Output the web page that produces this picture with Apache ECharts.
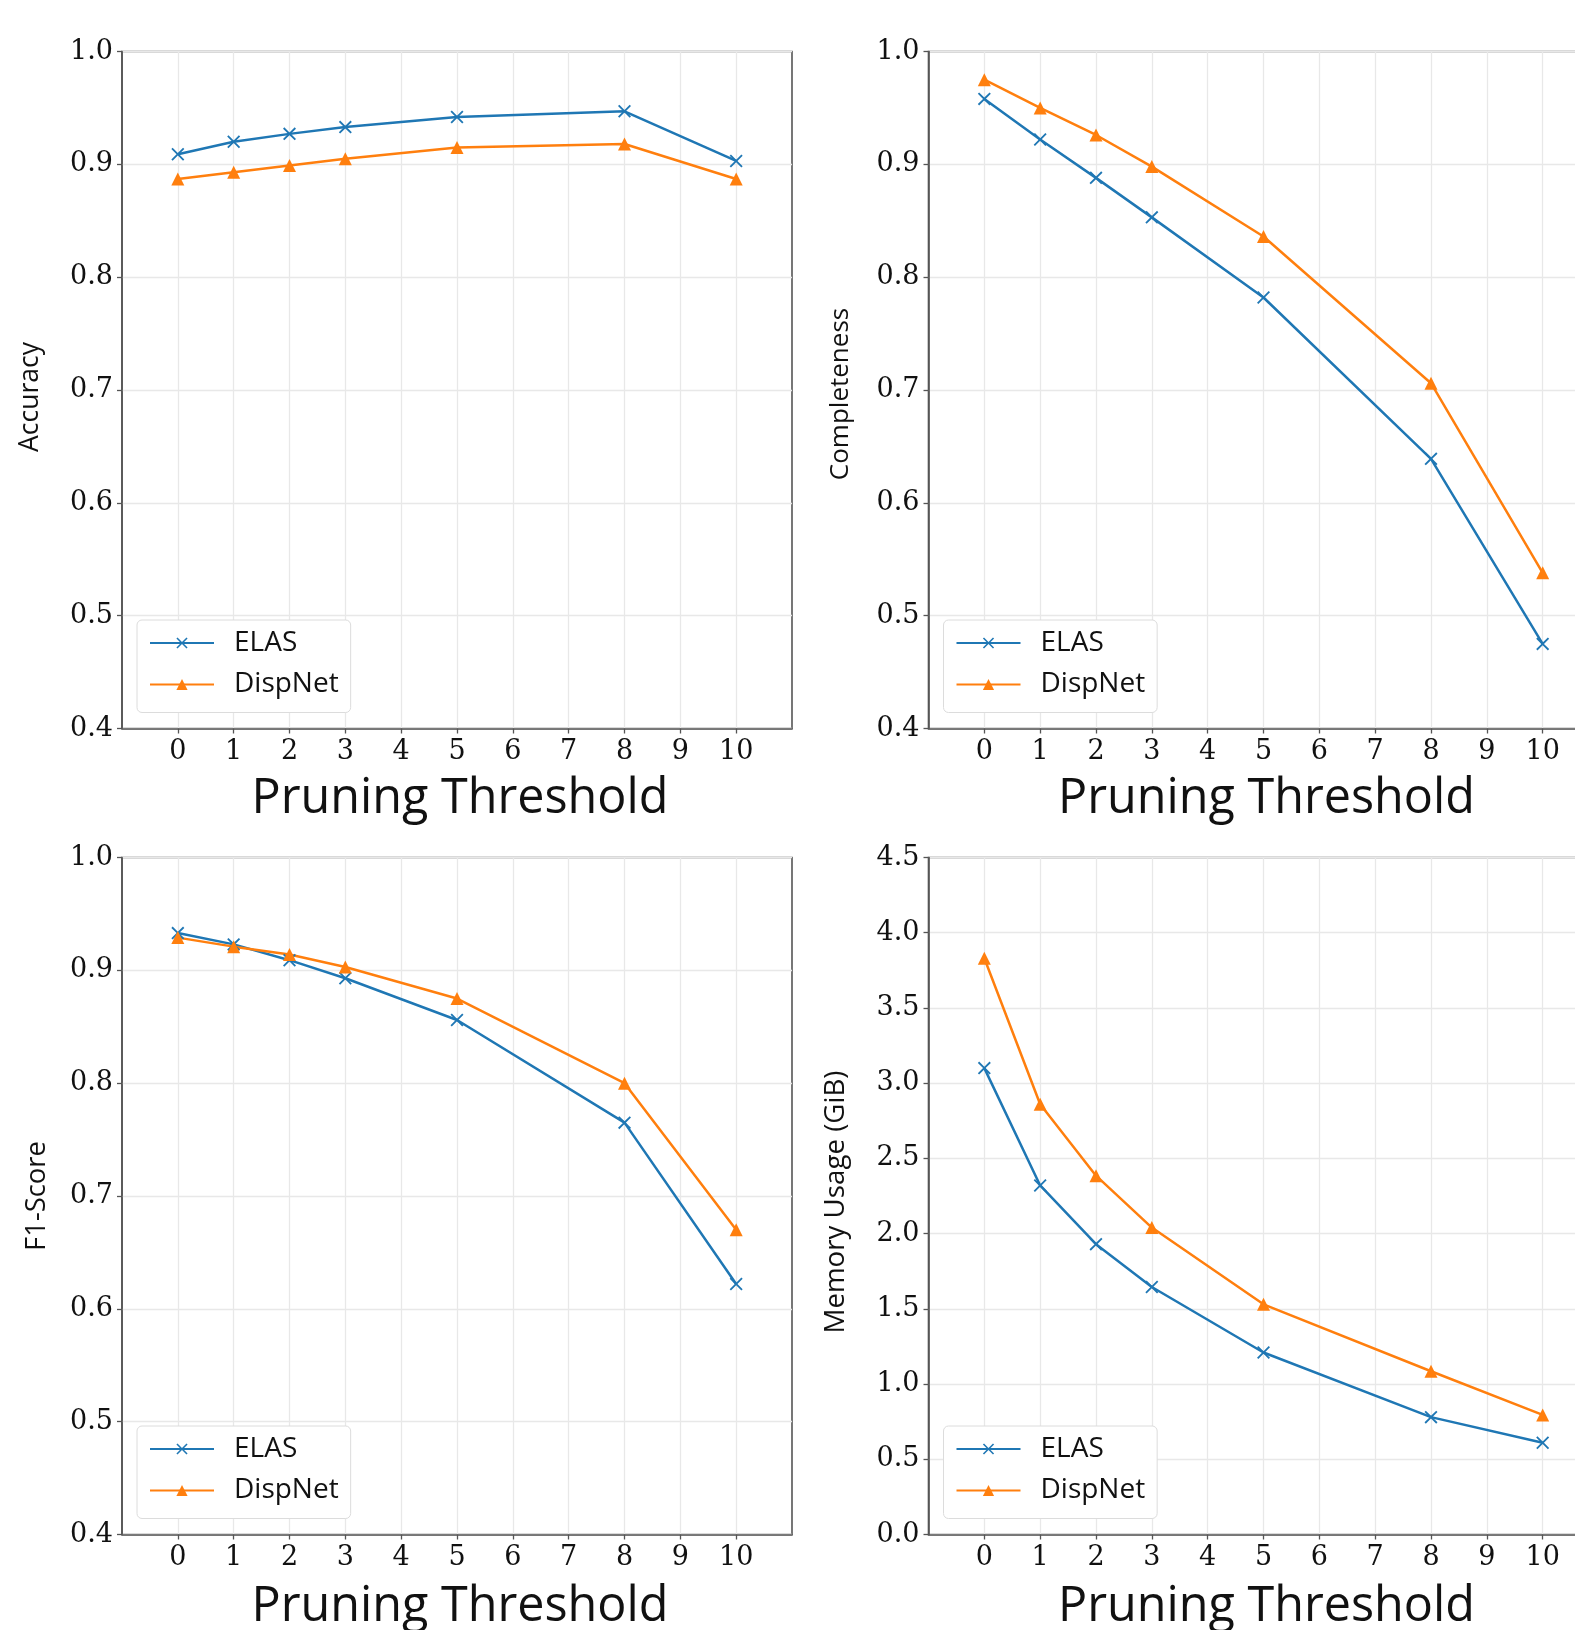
<!DOCTYPE html>
<html>
<head>
<meta charset="utf-8">
<script src="https://cdn.jsdelivr.net/npm/echarts@6/dist/echarts.min.js"></script>
<style>
  html, body { margin: 0; padding: 0; background: #fff; }
  #chart { width: 1575px; height: 1630px; overflow: hidden; }
</style>
</head>
<body>
<div id="chart"></div>
<script>
// pruning thresholds that were measured
const thresholds = [0, 1, 2, 3, 5, 8, 10];
const tickValues = [0, 1, 2, 3, 4, 5, 6, 7, 8, 9, 10];

const accuracyElas = [0.909, 0.920, 0.927, 0.933, 0.942, 0.947, 0.903];
const accuracyDisp = [0.887, 0.893, 0.899, 0.905, 0.915, 0.918, 0.887];

const completenessElas = [0.958, 0.922, 0.888, 0.853, 0.782, 0.639, 0.475];
const completenessDisp = [0.975, 0.950, 0.926, 0.898, 0.836, 0.706, 0.538];

const f1Elas = [0.933, 0.923, 0.909, 0.893, 0.856, 0.765, 0.622];
const f1Disp = [0.929, 0.921, 0.914, 0.903, 0.875, 0.800, 0.670];

const memoryElas = [3.10, 2.32, 1.93, 1.645, 1.21, 0.78, 0.61];
const memoryDisp = [3.83, 2.86, 2.385, 2.04, 1.53, 1.085, 0.795];

const BLUE = '#1f77b4';
const ORANGE = '#ff7f0e';
const X_MARK = 'path://M0,1L1,0L5,4L9,0L10,1L6,5L10,9L9,10L5,6L1,10L0,9L4,5Z';

// layout of the 2x2 panels (name shift moves the rotated y title down a bit)
const panels = [
  {name: 'Accuracy', elas: accuracyElas, disp: accuracyDisp, min: 0.4, max: 1.0, step: 0.1,
   left: 122, top: 51.5, nameGap: 78, nameSize: 26.5, nameShift: 14, xGap: 46},
  {name: 'Completeness', elas: completenessElas, disp: completenessDisp, min: 0.4, max: 1.0, step: 0.1,
   left: 928.5, top: 51.5, nameGap: 75, nameSize: 26, nameShift: 8, xGap: 46},
  {name: 'F1-Score', elas: f1Elas, disp: f1Disp, min: 0.4, max: 1.0, step: 0.1,
   left: 122, top: 857.5, nameGap: 71, nameSize: 27.4, nameShift: 0, xGap: 48},
  {name: 'Memory Usage (GiB)', elas: memoryElas, disp: memoryDisp, min: 0, max: 4.5, step: 0.5,
   left: 928.5, top: 857.5, nameGap: 78, nameSize: 27.7, nameShift: 12, xGap: 48}
];

function pairs(ys) {
  return thresholds.map((x, i) => [x, ys[i]]);
}

const grid = [], xAxis = [], yAxis = [], series = [], legend = [];

panels.forEach((p, i) => {
  grid.push({
    left: p.left, top: p.top, width: 670, height: 677,
    outerBoundsMode: 'none', containLabel: false,
    show: true, borderColor: '#555', borderWidth: 1.6, backgroundColor: '#fff'
  });
  xAxis.push({
    type: 'value', gridIndex: i, min: -1, max: 11, interval: 1,
    name: 'Pruning Threshold', nameLocation: 'middle', nameGap: p.xGap,
    nameTextStyle: {fontFamily: 'Open Sans', fontSize: 48.5, color: '#111', padding: [0, 0, 0, 6]},
    axisLine: {show: true, onZero: false, lineStyle: {color: '#555', width: 1.6}},
    axisTick: {show: true, length: 5, customValues: tickValues, lineStyle: {color: '#555', width: 1.3}},
    axisLabel: {
      customValues: tickValues, margin: 10,
      fontFamily: 'DejaVu Serif', fontSize: 27, color: '#111',
      formatter: v => (v < 0 || v > 10) ? '' : String(v)
    },
    splitLine: {show: true, lineStyle: {color: '#e8e8e8', width: 1.3}}
  });
  yAxis.push({
    type: 'value', gridIndex: i, min: p.min, max: p.max, interval: p.step,
    name: p.name, nameLocation: 'middle', nameGap: p.nameGap,
    nameTextStyle: {
      fontFamily: 'Open Sans', fontSize: p.nameSize, color: '#111',
      padding: [0, p.nameShift, 0, 0]
    },
    axisLine: {show: true, onZero: false, lineStyle: {color: '#555', width: 1.6}},
    axisTick: {show: true, length: 5, lineStyle: {color: '#555', width: 1.3}},
    axisLabel: {
      margin: 9, fontFamily: 'DejaVu Serif', fontSize: 27, color: '#111',
      formatter: v => v.toFixed(1)
    },
    splitLine: {show: true, lineStyle: {color: '#e8e8e8', width: 1.3}}
  });
  series.push({
    name: 'ELAS', type: 'line', xAxisIndex: i, yAxisIndex: i,
    data: pairs(p.elas), symbol: X_MARK, symbolSize: 13,
    lineStyle: {color: BLUE, width: 2.5}, itemStyle: {color: BLUE}
  });
  series.push({
    name: 'DispNet', type: 'line', xAxisIndex: i, yAxisIndex: i,
    data: pairs(p.disp), symbol: 'triangle', symbolSize: 13,
    lineStyle: {color: ORANGE, width: 2.5}, itemStyle: {color: ORANGE}
  });
  legend.push({
    data: ['ELAS', 'DispNet'], orient: 'vertical',
    left: p.left + 15, top: p.top + 568.5,
    padding: [9, 12, 14, 12], itemGap: 13.5, itemWidth: 64, itemHeight: 14,
    backgroundColor: '#fff', borderColor: '#dcdcdc', borderWidth: 1, borderRadius: 5,
    textStyle: {fontFamily: 'Open Sans', fontSize: 28, color: '#111', padding: [0, 0, 0, 15]},
    selectedMode: false
  });
});

const chart = echarts.init(document.getElementById('chart'));
chart.setOption({
  animation: false,
  backgroundColor: '#fff',
  grid, xAxis, yAxis, series, legend
});
</script>
</body>
</html>
